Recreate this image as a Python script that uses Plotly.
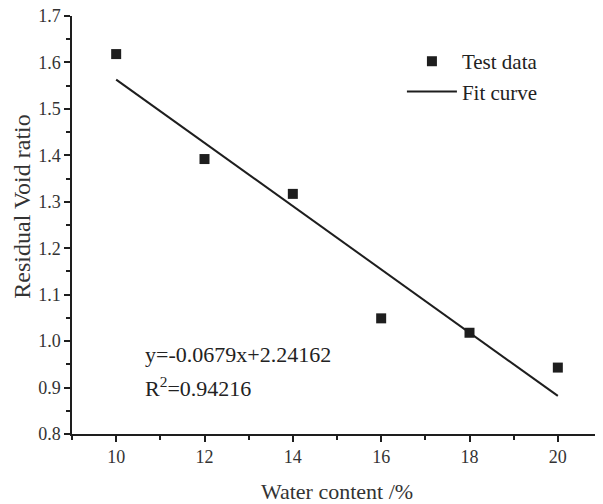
import plotly.graph_objects as go

# Data
water_content = [10, 12, 14, 16, 18, 20]
void_ratio = [1.618, 1.392, 1.317, 1.049, 1.018, 0.943]
fit_x = [10, 20]
fit_y = [1.563, 0.882]
equation_text = "y=-0.0679x+2.24162"
r2_text = "R<sup>2</sup>=0.94216"
x_title = "Water content /%"
y_title = "Residual Void ratio"
x_ticks = [10, 12, 14, 16, 18, 20]
y_ticks = [0.8, 0.9, 1.0, 1.1, 1.2, 1.3, 1.4, 1.5, 1.6, 1.7]

FONT = "Liberation Serif"
INK = "#1e1e1e"

fig = go.Figure()
fig.add_trace(go.Scatter(
    x=water_content, y=void_ratio, mode="markers", name="Test data",
    marker=dict(symbol="square", size=10, color=INK),
))
fig.add_trace(go.Scatter(
    x=fit_x, y=fit_y, mode="lines", name="Fit curve",
    line=dict(color=INK, width=2),
))

axis_common = dict(
    showline=True, linecolor=INK, linewidth=1.5, mirror=False,
    ticks="outside", ticklen=6, tickwidth=1.5, tickcolor=INK,
    showgrid=False, zeroline=False, automargin=False,
    ticklabeloverflow="allow",
    tickfont=dict(family=FONT, size=18, color="#333"),
)

fig.update_xaxes(
    range=[9, 21], tickvals=x_ticks,
    minor=dict(dtick=1, tick0=9, ticks="outside", ticklen=4, tickwidth=1.5, tickcolor=INK, showgrid=False),
    title=dict(text=x_title, font=dict(family=FONT, size=22, color="#333"), standoff=17),
    **axis_common,
)
fig.update_yaxes(
    range=[0.8, 1.7], tickvals=y_ticks, tickformat=".1f",
    minor=dict(dtick=0.05, tick0=0.8, ticks="outside", ticklen=4, tickwidth=1.5, tickcolor=INK, showgrid=False),
    **axis_common,
)

# y-axis title placed as rotated text (sits above the plot's vertical centre in the reference)
fig.add_annotation(x=-0.095, y=0.543, xref="paper", yref="paper", text=y_title,
                   textangle=-90, showarrow=False, xanchor="center", yanchor="middle",
                   borderpad=0,
                   font=dict(family=FONT, size=24, color="#333"))

fig.add_annotation(x=0.134, y=0.189, xref="paper", yref="paper", text=equation_text,
                   showarrow=False, xanchor="left", yanchor="middle",
                   font=dict(family=FONT, size=22, color="#222"))
fig.add_annotation(x=0.134, y=0.112, xref="paper", yref="paper", text=r2_text,
                   showarrow=False, xanchor="left", yanchor="middle",
                   font=dict(family=FONT, size=22, color="#222"))

fig.update_layout(
    width=595, height=496,
    margin=dict(l=64, r=1, t=8, b=70),
    paper_bgcolor="white", plot_bgcolor="white",
    font=dict(family=FONT, color="#222"),
    legend=dict(x=0.6225, y=0.94, xanchor="left", yanchor="top",
                bgcolor="rgba(0,0,0,0)", borderwidth=0, itemwidth=50,
                font=dict(family=FONT, size=21, color="#222"),
                tracegroupgap=0),
    showlegend=True,
)

fig.write_html("out.html")
